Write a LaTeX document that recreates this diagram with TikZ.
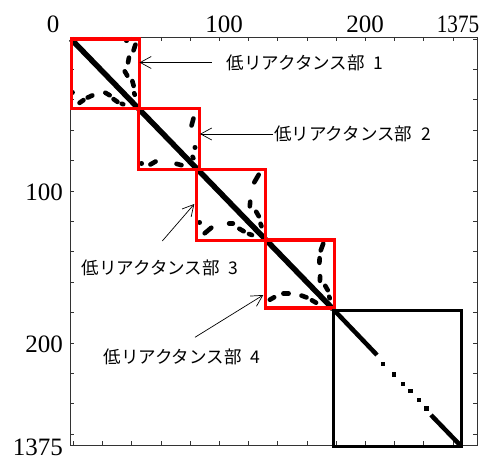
\documentclass[tikz,border=0pt]{standalone}
\usepackage{fontspec}
\setmainfont{Liberation Serif}
\newfontfamily\jpfont{Noto Sans CJK JP}
\usetikzlibrary{arrows.meta}
% capsule-shaped mark: centre x, centre y, angle, half length
\newcommand\blob[4]{\draw[line width=4.6pt,line cap=round,shift={(#1,#2)},rotate=#3] (-#4,0) -- (#4,0);}
\newcommand\sq[2]{\fill (#1-2.3,#2-2.3) rectangle (#1+2.3,#2+2.3);}
\begin{document}
\begin{tikzpicture}[x=1pt,y=-1pt,
  axisline/.style={line width=0.9pt,draw=black!80},
  tick/.style={line width=0.8pt,draw=black!80},
  redbox/.style={draw=red,line width=3.4pt},
  blackbox/.style={draw=black,line width=3.2pt},
  num/.style={font=\fontsize{25}{25}\selectfont,inner sep=0pt},
  lab/.style={font=\jpfont\fontsize{17.5}{18}\selectfont,inner sep=0pt,anchor=west},
  arr/.style={line width=0.7pt,-{Straight Barb[length=11pt,width=12pt,line width=0.7pt]}}]
\useasboundingbox (0,0) rectangle (488,462);
% axes frame
\coordinate (tl) at (70,37);
\coordinate (br) at (477,445);
\draw[axisline] (tl) rectangle (br);
\foreach \x in {73.4,102.6,131.8,161,190.2,219.4,248.6,277.8,307,336.2,365.4,394.6,423.8,453}{
  \draw[tick] (\x,37) -- (\x,41);
  \draw[tick] (\x,445) -- (\x,441);
}
\foreach \y in {39,69.4,99.8,130.2,160.6,191,221.4,251.8,282.2,312.6,343,373.4,403.8,434.2}{
  \draw[tick] (70,\y) -- (74,\y);
  \draw[tick] (477,\y) -- (473,\y);
}
% tick labels
\node[num] (tx0) at (53,24) {0};
\node[num] (tx100) at (224,24) {100};
\node[num] (tx200) at (365,24) {200};
\node[num,xscale=0.85] (tx1375) at (458,24) {1375};
\node[num,anchor=east] (ty100) at (63,192) {100};
\node[num,anchor=east] (ty200) at (63,344) {200};
\node[num,anchor=east] (ty1375) at (63,447) {1375};
% diagonal
\draw[line width=5.5pt] (71,39) -- (333,309);
\draw[line width=4.5pt] (333,309) -- (377,355);
\draw[line width=4.5pt] (431,415) -- (460,445);
\sq{383}{364}\sq{394}{374.5}\sq{403}{384}\sq{410.5}{391}\sq{419}{400}\sq{426.5}{408.5}
% box 1 pattern
\blob{126.5}{40.5}{0}{0.3}
\blob{134.5}{47.5}{72}{3}
\blob{128.5}{60}{80}{2.4}
\blob{126}{73.5}{-60}{2.5}
\blob{133}{83.5}{-75}{2.5}
\blob{134.5}{94}{-70}{0.8}
\blob{72.5}{92.3}{0}{0.1}
\blob{81.5}{101.5}{35}{2.4}
\blob{90}{96.5}{25}{2.6}
\blob{107.5}{94}{-30}{2.5}
\blob{115.5}{100.5}{-35}{2.4}
\blob{122.5}{104}{-20}{0.8}
% box 2 pattern
\blob{192.5}{122}{75}{3.6}
\blob{195}{147.5}{0}{0.2}
\blob{193}{157.5}{-60}{0.8}
\blob{141.5}{163.5}{0}{0.2}
\blob{153}{163}{30}{3}
\blob{179}{164.5}{-15}{2.6}
% box 3 pattern
\blob{256.5}{178.5}{60}{4.4}
\blob{250}{204}{85}{2.3}
\blob{257.5}{214}{-60}{2.6}
\blob{261}{225}{-70}{1.3}
\blob{199.5}{222.5}{0}{0.2}
\blob{208}{230.5}{40}{4.3}
\blob{231}{223.5}{0}{1.9}
\blob{241.5}{230}{-30}{2.5}
\blob{250.5}{234.5}{-20}{1.6}
% box 4 pattern
\blob{322}{247}{70}{3.6}
\blob{319.5}{260.5}{88}{2.3}
\blob{320}{278.5}{88}{2.3}
\blob{326.5}{288}{-60}{2.5}
\blob{329.5}{297.5}{-70}{0.8}
\blob{272}{298.5}{30}{2.5}
\blob{286}{293.5}{0}{2.6}
\blob{304}{296.5}{-20}{2.6}
\blob{314}{301.5}{-30}{2.4}
% red boxes
\node[redbox,inner sep=0pt,minimum width=68.5pt,minimum height=69.5pt,anchor=north west] (r1) at (69.5,37.5) {};
\node[redbox,inner sep=0pt,minimum width=60.5pt,minimum height=61pt,anchor=north west] (r2) at (137,107) {};
\node[redbox,inner sep=0pt,minimum width=69pt,minimum height=71pt,anchor=north west] (r3) at (195,168) {};
\node[redbox,inner sep=0pt,minimum width=69pt,minimum height=68pt,anchor=north west] (r4) at (264,238.5) {};
\node[blackbox,inner sep=0pt,minimum width=128pt,minimum height=136pt,anchor=north west] (b5) at (332,309) {};
% labels and arrows
\node[lab] (l1) at (226.7,63) {低リアクタンス部\hspace{0.5em}1};
\node[lab] (l2) at (274,134) {低リアクタンス部\hspace{0.5em}2};
\node[lab] (l3) at (81.7,268) {低リアクタンス部\hspace{0.5em}3};
\node[lab] (l4) at (103.3,357) {低リアクタンス部\hspace{0.5em}4};
\coordinate (s1) at (211.7,62.5);
\coordinate (t1) at (139.5,62.5);
\coordinate (s2) at (273,134);
\coordinate (t2) at (200,134);
\coordinate (s3) at (162.3,241);
\coordinate (t3) at (194.3,204);
\coordinate (s4) at (195,337.3);
\coordinate (t4) at (263.3,295);
\draw[arr] (s1) -- (t1);
\draw[arr] (s2) -- (t2);
\draw[arr] (s3) -- (t3);
\draw[arr] (s4) -- (t4);
\end{tikzpicture}
\end{document}
